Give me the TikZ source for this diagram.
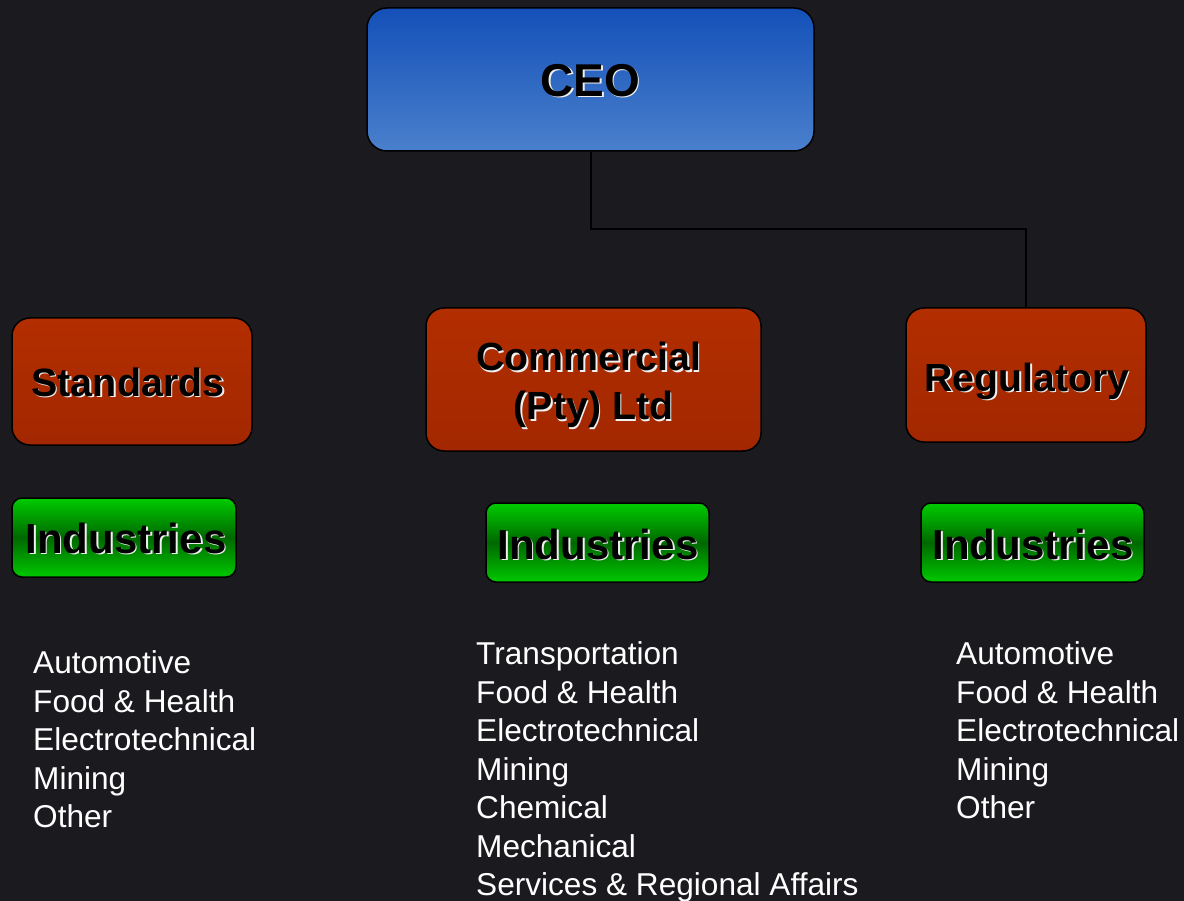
\documentclass[tikz,border=0pt]{standalone}
\usepackage{fontspec}
\setmainfont{Liberation Sans}
\definecolor{bgc}{HTML}{1B1A1F}
\definecolor{blueT}{HTML}{1450B8}
\definecolor{blueB}{HTML}{4A80CC}
\definecolor{redT}{HTML}{B32E00}
\definecolor{redB}{HTML}{A22700}
\definecolor{grT}{HTML}{00CC00}
\definecolor{grM}{HTML}{006800}
\definecolor{grB}{HTML}{00C800}
\definecolor{shc}{HTML}{F0F0F0}
\newcommand\shw[1]{\makebox[0pt][l]{\kern1.4pt\raisebox{-1.4pt}{\textcolor{shc}{#1}}}#1}
\tikzset{
  box/.style={draw=black, line width=1.5pt, inner sep=0pt},
  ceobox/.style={box, rounded corners=20pt, top color=blueT, bottom color=blueB},
  divbox/.style={box, rounded corners=18pt, top color=redT, bottom color=redB},
  indbox/.style={box, rounded corners=10pt, top color=grT, bottom color=grB, middle color=grM, minimum width=223pt, minimum height=79pt},
  btext/.style={inner sep=0pt, align=center, anchor=base},
  listtext/.style={anchor=north west, inner sep=0pt, align=left, text=white, font=\fontsize{31.6}{38.5}\selectfont},
  conn/.style={draw=black, line width=1.5pt}
}
\begin{document}
\begin{tikzpicture}[x=1pt,y=-1pt]
\useasboundingbox (0,0) rectangle (1184,901);
\fill[bgc] (0,0) rectangle (1184,901);

% boxes
\node[ceobox, minimum width=447pt, minimum height=143pt] (ceo) at (590.5,79.5) {};
\node[divbox, minimum width=240pt, minimum height=127pt] (std) at (132,381.5) {};
\node[divbox, minimum width=335pt, minimum height=143pt] (com) at (593.5,379.5) {};
\node[divbox, minimum width=240pt, minimum height=134pt] (reg) at (1026,375) {};
\node[indbox, minimum width=224pt] (indL) at (124,537.5) {};
\node[indbox] (indM) at (597.5,542.5) {};
\node[indbox] (indR) at (1032.5,542.5) {};

% box texts
\node[btext, font=\bfseries\fontsize{46}{50}\selectfont] (ceoT) at (590.5,96.5) {\shw{CEO}};
\node[btext, font=\bfseries\fontsize{39.5}{50}\selectfont] (stdT) at (128,396.6) {\shw{Standards}};
\node[btext, anchor=center, font=\bfseries\fontsize{39.3}{49}\selectfont] (comT) at (589,386) {\shw{Commercial}\\\hspace*{9pt}\shw{(Pty) Ltd}};
\node[btext, font=\bfseries\fontsize{39.2}{50}\selectfont] (regT) at (1027,391.5) {\shw{Regulatory}};
\node[btext, font=\bfseries\fontsize{42}{50}\selectfont] (indLT) at (126,553) {\shw{Industries}};
\node[btext, font=\bfseries\fontsize{42}{50}\selectfont] (indMT) at (598,559) {\shw{Industries}};
\node[btext, font=\bfseries\fontsize{42}{50}\selectfont] (indRT) at (1033,559) {\shw{Industries}};

% connector
\coordinate (bend) at (591,229);
\draw[conn] (ceo.south -| bend) -- (bend) -| (reg.north);

% lists
\node[listtext] (listL) at (33,650.5) {Automotive\\Food \& Health\\Electrotechnical\\Mining\\Other};
\node[listtext] (listM) at (476,641.5) {Transportation\\Food \& Health\\Electrotechnical\\Mining\\Chemical\\Mechanical\\Services \& Regional Affairs};
\node[listtext] (listR) at (956,641.5) {Automotive\\Food \& Health\\Electrotechnical\\Mining\\Other};
\end{tikzpicture}
\end{document}
